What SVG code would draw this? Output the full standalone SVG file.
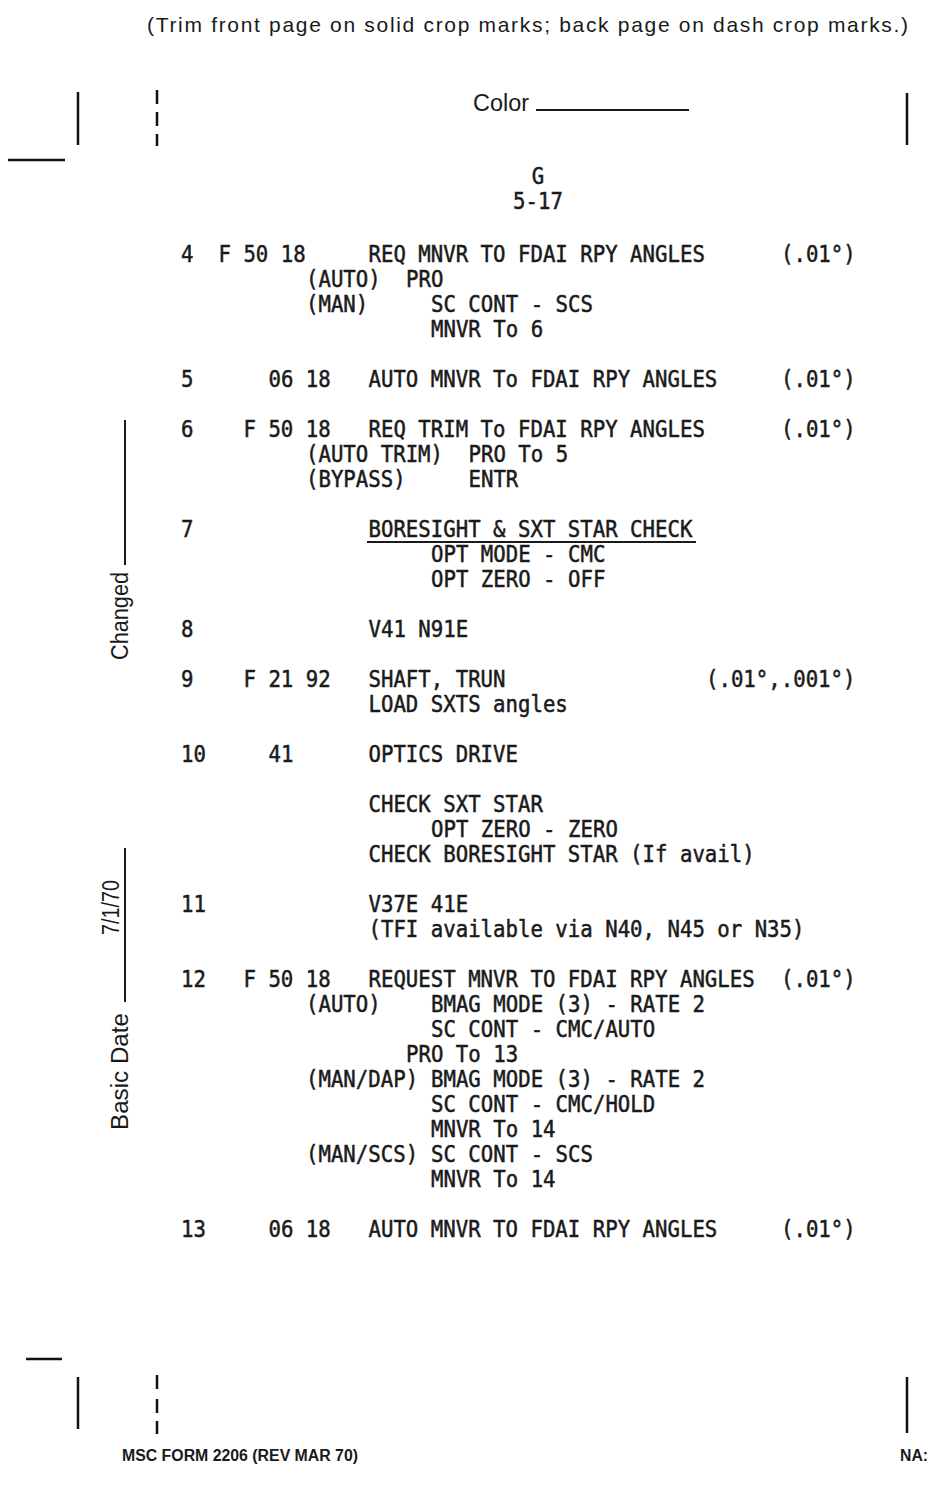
<svg xmlns="http://www.w3.org/2000/svg" width="939" height="1486" viewBox="0 0 939 1486">
<style>
.t{font-family:"DejaVu Sans Mono","Liberation Mono",monospace;font-size:20.7px;fill:#1a1a1a;stroke:#1a1a1a;stroke-width:0.45}
.s{font-family:"Liberation Sans",Arial,sans-serif;fill:#1a1a1a}
.m{stroke:#111;stroke-width:2.5;fill:none}
.u{stroke:#1a1a1a;stroke-width:2;fill:none}
</style>
<rect width="939" height="1486" fill="#fff"/>
<g id="header">
<text class="s" x="147" y="32" font-size="21" textLength="761">(Trim front page on solid crop marks; back page on dash crop marks.)</text>
<text class="s" x="473" y="111" font-size="23" textLength="56" lengthAdjust="spacingAndGlyphs">Color</text>
<line class="u" x1="536" y1="110" x2="689" y2="110"/>
</g>
<g id="crop-marks">
<line class="m" x1="78" y1="92" x2="78" y2="145"/>
<line class="m" x1="157" y1="90" x2="157" y2="104"/>
<line class="m" x1="157" y1="112" x2="157" y2="126"/>
<line class="m" x1="157" y1="134" x2="157" y2="146"/>
<line class="m" x1="907" y1="93" x2="907" y2="145"/>
<line class="m" x1="8" y1="160" x2="65" y2="160"/>
<line class="m" x1="26" y1="1359" x2="62" y2="1359"/>
<line class="m" x1="78" y1="1377" x2="78" y2="1429"/>
<line class="m" x1="157" y1="1375" x2="157" y2="1389"/>
<line class="m" x1="157" y1="1399" x2="157" y2="1413"/>
<line class="m" x1="157" y1="1421" x2="157" y2="1434"/>
<line class="m" x1="907" y1="1377" x2="907" y2="1433"/>
</g>
<g id="side-labels">
<line class="u" x1="125" y1="420" x2="125" y2="565"/>
<text class="s" font-size="23" transform="translate(128 660) rotate(-90)" textLength="88" lengthAdjust="spacingAndGlyphs">Changed</text>
<line class="u" x1="125" y1="848" x2="125" y2="1002"/>
<text class="s" font-size="23" transform="translate(119 935) rotate(-90)" textLength="55" lengthAdjust="spacingAndGlyphs">7/1/70</text>
<text class="s" font-size="23" transform="translate(128 1130) rotate(-90)" textLength="117" lengthAdjust="spacingAndGlyphs">Basic Date</text>
</g>
<g id="body" transform="scale(1 1.15)">
<text class="t" x="538" y="160" text-anchor="middle">G</text>
<text class="t" x="538" y="181.74" text-anchor="middle">5-17</text>

<g id="step4">
<text class="t" x="181" y="227.83">4</text>
<text class="t" x="218.5" y="227.83">F 50 18</text>
<text class="t" x="368.5" y="227.83">REQ MNVR TO FDAI RPY ANGLES</text>
<text class="t" x="781" y="227.83">(.01°)</text>
<text class="t" x="306" y="249.57">(AUTO)</text>
<text class="t" x="406" y="249.57">PRO</text>
<text class="t" x="306" y="271.30">(MAN)</text>
<text class="t" x="431" y="271.30">SC CONT - SCS</text>
<text class="t" x="431" y="293.04">MNVR To 6</text>
</g>
<g id="step5">
<text class="t" x="181" y="336.52">5</text>
<text class="t" x="268.5" y="336.52">06 18</text>
<text class="t" x="368.5" y="336.52">AUTO MNVR To FDAI RPY ANGLES</text>
<text class="t" x="781" y="336.52">(.01°)</text>
</g>
<g id="step6">
<text class="t" x="181" y="380">6</text>
<text class="t" x="243.5" y="380">F 50 18</text>
<text class="t" x="368.5" y="380">REQ TRIM To FDAI RPY ANGLES</text>
<text class="t" x="781" y="380">(.01°)</text>
<text class="t" x="306" y="401.74">(AUTO TRIM)</text>
<text class="t" x="468.5" y="401.74">PRO To 5</text>
<text class="t" x="306" y="423.48">(BYPASS)</text>
<text class="t" x="468.5" y="423.48">ENTR</text>
</g>
<g id="step7">
<text class="t" x="181" y="466.96">7</text>
<text class="t" x="368.5" y="466.96">BORESIGHT &amp; SXT STAR CHECK</text>
<text class="t" x="431" y="488.70">OPT MODE - CMC</text>
<text class="t" x="431" y="510.43">OPT ZERO - OFF</text>
</g>
<g id="step8">
<text class="t" x="181" y="553.91">8</text>
<text class="t" x="368.5" y="553.91">V41 N91E</text>
</g>
<g id="step9">
<text class="t" x="181" y="597.39">9</text>
<text class="t" x="243.5" y="597.39">F 21 92</text>
<text class="t" x="368.5" y="597.39">SHAFT, TRUN</text>
<text class="t" x="706" y="597.39">(.01°,.001°)</text>
<text class="t" x="368.5" y="619.13">LOAD SXTS angles</text>
</g>
<g id="step10">
<text class="t" x="181" y="662.61">10</text>
<text class="t" x="268.5" y="662.61">41</text>
<text class="t" x="368.5" y="662.61">OPTICS DRIVE</text>
<text class="t" x="368.5" y="706.09">CHECK SXT STAR</text>
<text class="t" x="431" y="727.83">OPT ZERO - ZERO</text>
<text class="t" x="368.5" y="749.57">CHECK BORESIGHT STAR (If avail)</text>
</g>
<g id="step11">
<text class="t" x="181" y="793.04">11</text>
<text class="t" x="368.5" y="793.04">V37E 41E</text>
<text class="t" x="368.5" y="814.78">(TFI available via N40, N45 or N35)</text>
</g>
<g id="step12">
<text class="t" x="181" y="858.26">12</text>
<text class="t" x="243.5" y="858.26">F 50 18</text>
<text class="t" x="368.5" y="858.26">REQUEST MNVR TO FDAI RPY ANGLES</text>
<text class="t" x="781" y="858.26">(.01°)</text>
<text class="t" x="306" y="880">(AUTO)</text>
<text class="t" x="431" y="880">BMAG MODE (3) - RATE 2</text>
<text class="t" x="431" y="901.74">SC CONT - CMC/AUTO</text>
<text class="t" x="406" y="923.48">PRO To 13</text>
<text class="t" x="306" y="945.22">(MAN/DAP)</text>
<text class="t" x="431" y="945.22">BMAG MODE (3) - RATE 2</text>
<text class="t" x="431" y="966.96">SC CONT - CMC/HOLD</text>
<text class="t" x="431" y="988.70">MNVR To 14</text>
<text class="t" x="306" y="1010.43">(MAN/SCS)</text>
<text class="t" x="431" y="1010.43">SC CONT - SCS</text>
<text class="t" x="431" y="1032.17">MNVR To 14</text>
</g>
<g id="step13">
<text class="t" x="181" y="1075.65">13</text>
<text class="t" x="268.5" y="1075.65">06 18</text>
<text class="t" x="368.5" y="1075.65">AUTO MNVR TO FDAI RPY ANGLES</text>
<text class="t" x="781" y="1075.65">(.01°)</text>
</g>
</g>
<line class="u" x1="367" y1="542" x2="696" y2="542"/>
<g id="footer">
<text class="s" x="122" y="1461" font-size="16" font-weight="bold" textLength="236" lengthAdjust="spacingAndGlyphs">MSC FORM 2206 (REV MAR 70)</text>
<text class="s" x="900" y="1461" font-size="16" font-weight="bold" textLength="28" lengthAdjust="spacingAndGlyphs">NA:</text>
</g>
</svg>
